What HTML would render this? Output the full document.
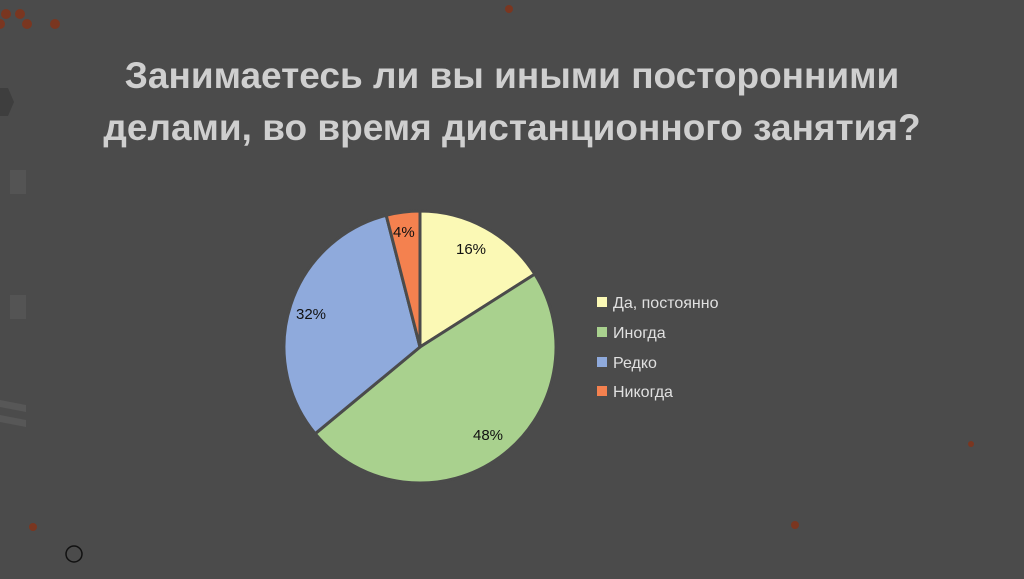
<!DOCTYPE html>
<html><head><meta charset="utf-8"><style>
body{margin:0;width:1024px;height:574px;background:#4b4b4b;overflow:hidden;font-family:"Liberation Sans",sans-serif}
</style></head><body>
<svg width="1024" height="574" xmlns="http://www.w3.org/2000/svg">
<rect width="1024" height="574" fill="#4b4b4b"/>
<g fill="#7a3620">
<circle cx="6" cy="14" r="5"/><circle cx="20" cy="14" r="5"/><circle cx="27" cy="24" r="5"/><circle cx="55" cy="24" r="5"/><circle cx="0" cy="24" r="5"/>
<circle cx="509" cy="9" r="4"/><circle cx="33" cy="527" r="4"/><circle cx="795" cy="525" r="4"/><circle cx="971" cy="444" r="3"/>
</g>
<polygon points="0,88 8,88 14,102 8,116 0,116" fill="#3e3e3e"/>
<rect x="10" y="170" width="16" height="24" fill="#545454"/>
<rect x="10" y="295" width="16" height="24" fill="#545454"/>
<path d="M0 400 L26 405 L26 412 L0 407Z M0 415 L26 420 L26 427 L0 422Z" fill="#575757"/>
<circle cx="74" cy="554" r="8" fill="none" stroke="#111" stroke-width="1.5"/>
<g font-weight="bold" font-size="37" fill="#cfcfcf" text-anchor="middle">
<text x="512" y="88">Занимаетесь ли вы иными посторонними</text>
<text x="512" y="140">делами, во время дистанционного занятия?</text>
</g>
<g stroke="#4b4b4b" stroke-width="3" stroke-linejoin="round">
<path d="M420 347 L420 211 A136 136 0 0 1 534.8 274.1Z" fill="#fbf9b5"/>
<path d="M420 347 L534.8 274.1 A136 136 0 0 1 315.2 433.7Z" fill="#a9d18e"/>
<path d="M420 347 L315.2 433.7 A136 136 0 0 1 386.2 215.3Z" fill="#8faadc"/>
<path d="M420 347 L386.2 215.3 A136 136 0 0 1 420 211Z" fill="#f4814f"/>
</g>
<g font-size="15" fill="#111">
<text x="456" y="254">16%</text>
<text x="473" y="440">48%</text>
<text x="296" y="319">32%</text>
<text x="393" y="237">4%</text>
</g>
<g font-size="16" fill="#e0e0e0">
<rect x="597" y="297" width="10" height="10" fill="#fbf9b5"/><text x="613" y="308">Да, постоянно</text>
<rect x="597" y="327" width="10" height="10" fill="#a9d18e"/><text x="613" y="338">Иногда</text>
<rect x="597" y="357" width="10" height="10" fill="#8faadc"/><text x="613" y="368">Редко</text>
<rect x="597" y="386" width="10" height="10" fill="#f4814f"/><text x="613" y="397">Никогда</text>
</g>
</svg>
</body></html>
